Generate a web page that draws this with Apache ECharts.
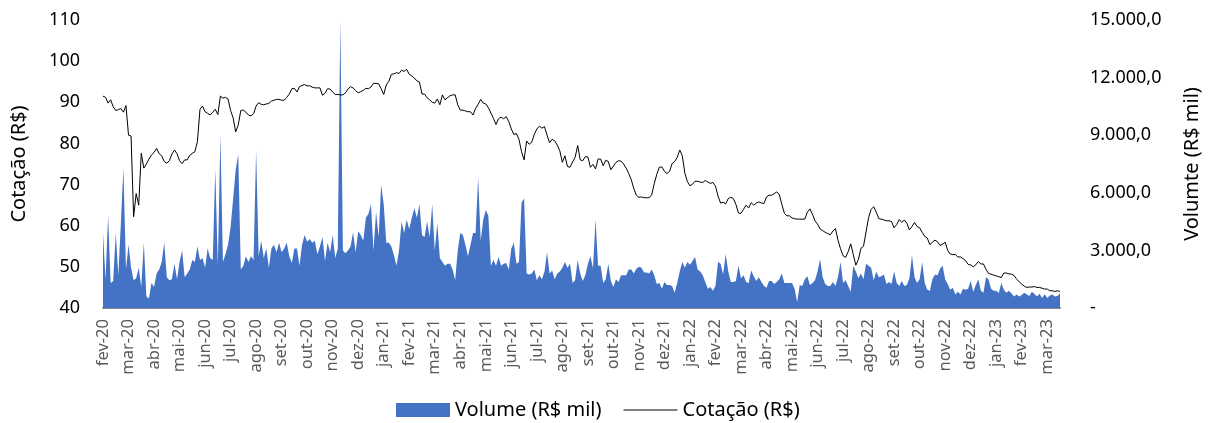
<!DOCTYPE html>
<html>
<head>
<meta charset="utf-8">
<script src="https://cdn.jsdelivr.net/npm/echarts@6/dist/echarts.min.js"></script>
<style>
  html, body { margin: 0; padding: 0; background: #ffffff; }
  #chart { width: 1214px; height: 423px; }
</style>
</head>
<body>
<div id="chart"></div>
<script>
// Month labels of the horizontal axis
const months2020 = ['fev-20', 'mar-20', 'abr-20', 'mai-20', 'jun-20', 'jul-20', 'ago-20', 'set-20', 'out-20', 'nov-20', 'dez-20'];
const months2021 = ['jan-21', 'fev-21', 'mar-21', 'abr-21', 'mai-21', 'jun-21', 'jul-21', 'ago-21', 'set-21', 'out-21', 'nov-21', 'dez-21'];
const months2022 = ['jan-22', 'fev-22', 'mar-22', 'abr-22', 'mai-22', 'jun-22', 'jul-22', 'ago-22', 'set-22', 'out-22', 'nov-22', 'dez-22'];
const months2023 = ['jan-23', 'fev-23', 'mar-23'];

// Readings per month (10 per month, March 2023 partial)
const readingsPerMonth = 10;

// Share price, R$
const price2020 = [
  91.5, 91.2, 89.8, 90.6, 88.9, 88, 88.2, 88.5, 87.6, 89.2,
  82, 81.8, 62.2, 67.8, 65, 77.6, 74, 75, 76.2, 77.2,
  77.8, 78.8, 77.5, 77, 75.6, 75.2, 75.8, 77.4, 78.4, 77.5,
  75.8, 75.1, 76, 76, 77.1, 77.6, 78, 80.5, 88.3, 89.1,
  87.7, 87.3, 86.9, 87.6, 88.3, 87, 91.5, 91, 91.2, 90.8,
  88, 86.2, 82.8, 84.5, 88, 88.1, 87.6, 86.9, 86.7, 87.2,
  89.1, 89.9, 89.5, 89.4, 89.6, 89.7, 90.3, 90.5, 90.7, 90.7,
  90.5, 90.5, 91.2, 92, 93.3, 93.4, 92.5, 93.8, 94.1, 94.3,
  94, 94, 93.7, 93.5, 93.5, 93.5, 91.7, 92.2, 93.3, 93.2,
  92.5, 91.9, 91.9, 91.8, 91.8, 92.3, 93.2, 93.8, 93.5, 92.8,
  92.3, 92.6, 92.9, 93.4, 93.3, 93.7, 94.6, 94.6, 94.5, 93.3
];
const price2021 = [
  91.9, 94.2, 95.1, 96.8, 96.9, 97.2, 97, 97.8, 97.5, 98,
  96.8, 96.4, 95.9, 95.2, 94.9, 92, 92, 91.1, 90.6, 90,
  89.8, 90.8, 89.4, 91.8, 90.6, 91.1, 91.6, 91.8, 91.8, 89.4,
  88.1, 88.1, 87.9, 87.7, 87.7, 86.9, 88.5, 89.5, 90.7, 89.8,
  89.6, 88.7, 87.4, 86.1, 84.6, 86, 86.4, 86, 86.5, 85.3,
  83.5, 82.2, 82.4, 81, 78, 76, 80.6, 79.8, 80.3, 82.2,
  83.5, 84.2, 83.7, 84.1, 82, 80.2, 81, 80.6, 79.6, 78.2,
  75.4, 77, 74.4, 74.2, 75.5, 76.6, 79.5, 76, 75.8, 76.8,
  76.7, 74.2, 74.9, 73.8, 76.2, 76.2, 74.6, 75.9, 75.6, 73.6,
  74.5, 75.4, 75.8, 75.7, 75, 74, 72.7, 71.2, 69, 67.4,
  66.9, 67, 66.8, 66.8, 66.8, 67.5, 70.2, 72.5, 74.2, 74.3,
  73.2, 72.7, 73.2, 75.1, 75.6, 76.6, 78.4, 77, 72.8, 70.7
];
const price2022 = [
  69.7, 70.1, 70.8, 70.8, 70.6, 70.5, 71, 70.6, 70.3, 70.5,
  69.6, 67.2, 65.5, 65.7, 65.3, 66.6, 66.9, 66.6, 65.2, 63.1,
  63, 64, 65, 64.3, 65.6, 65, 65.5, 65.8, 65.5, 65.4,
  67, 67.4, 67.4, 67.8, 68.2, 67.6, 65.2, 63, 62.4, 62.4,
  61.9, 61.7, 61.6, 61.6, 61.6, 61.6, 63.3, 64.1, 62.8, 61.2,
  60.4, 59.2, 58.8, 58.4, 58.1, 57.8, 58.7, 59.3, 56.5, 54.4,
  52.7, 52.3, 53.7, 55.6, 53, 50.4, 51.8, 54.5, 55, 58.5,
  62, 64, 64.6, 63.3, 61.7, 61.6, 61.4, 61.2, 61.2, 61,
  59.5, 60.3, 61.5, 60.8, 61.4, 60.6, 59, 59.8, 60.8, 59.8,
  59.5, 58.4, 57.4, 57, 55.4, 56, 56.5, 56.1, 55.2, 55.5,
  56, 54, 53.1, 53, 53, 52.4, 52.4, 52, 51.5, 50.6,
  50.5, 50, 50.5, 51.3, 50.7, 50.7, 49.4, 48.4, 48.2, 48
];
const price2023 = [
  47.8, 47.6, 47.4, 48.5, 48.5, 48.3, 48.2, 47.9, 47, 46.4,
  45.8, 45.3, 45, 45.1, 45.1, 45.2, 45, 45, 44.8, 44.6,
  44.6, 44.2, 44.2, 44, 44.2, 44
];

// Traded volume, R$ thousand
const volume2020 = [
  3900, 1500, 4800, 1300, 1400, 3900, 1700, 4400, 7300, 2000,
  3300, 2100, 1450, 1550, 2100, 1100, 3400, 600, 500, 1300,
  1100, 1800, 2000, 2400, 3400, 1600, 1450, 1500, 2300, 1500,
  2400, 3000, 1600, 1800, 2000, 2500, 2400, 3200, 2500, 2600,
  2100, 3100, 2600, 2500, 7200, 2200, 9000, 2400, 2800, 3300,
  4200, 5700, 7200, 8000, 2000, 2200, 2700, 2400, 2700, 2500,
  8200, 2700, 3500, 2600, 3100, 2100, 3100, 3300, 2900, 3400,
  2900, 3100, 3400, 2700, 2350, 3100, 3100, 2200, 3300, 3800,
  3450, 3600, 3400, 3500, 2800, 3200, 3700, 2450, 3400, 2900,
  3800, 2600, 3100, 15000, 3000, 2850, 3000, 3200, 3950, 2900,
  4000, 3800, 3500, 4700, 4900, 5400, 3000, 5000, 3700, 6400
];
const volume2021 = [
  5400, 3400, 3400, 3200, 2750, 2200, 3000, 4500, 3900, 4600,
  4100, 4700, 5200, 4700, 5400, 3800, 3700, 4500, 3700, 5400,
  3000, 4400, 2600, 2400, 2200, 2300, 2300, 2000, 1450, 3000,
  3900, 3800, 3300, 2700, 3300, 3900, 3900, 6800, 3500, 4600,
  5100, 4800, 2200, 2500, 2200, 2650, 2200, 2300, 2350, 2000,
  3100, 3400, 2300, 2400, 5500, 5700, 1800, 1750, 1800, 2000,
  1450, 1700, 1500, 1900, 2900, 1800, 1950, 1500, 1800, 1900,
  2100, 2400, 2100, 2300, 1300, 1450, 2500, 1800, 1400, 1700,
  2300, 2700, 2065, 4600, 2200, 2200, 1300, 1500, 2300, 1400,
  1100, 1500, 1350, 1700, 1700, 1700, 2000, 2000, 1800, 2050,
  2150, 2100, 1850, 1850, 1800, 2000, 1700, 1250, 1300, 1000,
  1350, 1200, 1200, 1150, 800, 1300, 1900, 2400, 2100, 2400
];
const volume2022 = [
  2250, 2450, 2650, 2000, 1900, 1700, 1350, 1000, 1100, 900,
  1150, 2400, 2300, 1750, 2800, 1900, 1350, 1350, 1400, 2200,
  1550, 1700, 1350, 1300, 1950, 1650, 1400, 1600, 1350, 1150,
  1050, 1400, 1400, 1250, 1350, 1500, 1800, 1300, 1300, 1300,
  1300, 1000, 300, 1200, 1150, 1500, 1650, 1200, 1300, 1450,
  1900, 2550, 1600, 1250, 1150, 1150, 1350, 1150, 1600, 2400,
  1300, 1450, 1150, 850, 2200, 1900, 1550, 1800, 1500, 2300,
  2200, 2100, 1450, 1900, 1600, 1650, 1750, 1250, 1350, 1250,
  1900, 1300, 1150, 1400, 1150, 1200, 1550, 2750, 1600, 1300,
  1500, 2400, 1300, 950, 900, 1500, 1750, 1700, 2050, 2200,
  1500, 1250, 950, 1050, 700, 850, 700, 1000, 950, 1000,
  1400, 850, 1200, 1500, 900, 800, 1600, 1500, 1000, 900
];
const volume2023 = [
  900, 780, 1300, 950, 800, 900, 750, 600, 700, 600,
  680, 800, 700, 620, 850, 730, 600, 740, 520, 720,
  520, 650, 700, 600, 620, 760
];

// Right axis tick values, R$ thousand
const volumeTicks = [0, 3000, 6000, 9000, 12000, 15000];

const months = months2020.concat(months2021, months2022, months2023);
const price = price2020.concat(price2021, price2022, price2023);
const volume = volume2020.concat(volume2021, volume2022, volume2023);
const slots = price.map((_, i) => String(i));

function brNumber(v) {
  if (v === 0) return '-';
  return String(v).replace(/\B(?=(\d{3})+(?!\d))/g, '.') + ',0';
}

const FONT = 'Noto Sans';
const chart = echarts.init(document.getElementById('chart'), null, { renderer: 'canvas' });

chart.setOption({
  animation: false,
  backgroundColor: '#ffffff',
  textStyle: { fontFamily: FONT },
  grid: { left: 103, right: 154, top: 20, bottom: 115 },
  legend: {
    top: 395,
    left: 391,
    itemWidth: 54,
    itemHeight: 14,
    itemGap: 22,
    symbolKeepAspect: true,
    textStyle: { fontFamily: FONT, fontSize: 20, color: '#000000' },
    data: [
      { name: 'Volume (R$ mil)', icon: 'rect' },
      { name: 'Cotação (R$)', icon: 'path://M0,0L54,0L54,1.2L0,1.2Z' }
    ]
  },
  xAxis: {
    type: 'category',
    data: slots,
    boundaryGap: false,
    axisLine: { lineStyle: { color: '#898989', width: 2 } },
    axisTick: { show: false },
    axisLabel: {
      rotate: 90,
      margin: 11,
      fontFamily: FONT,
      fontSize: 16.5,
      color: '#595959',
      interval: (index) => index % readingsPerMonth === 0,
      formatter: (value, index) => months[Math.floor(index / readingsPerMonth)]
    },
    splitLine: { show: false }
  },
  yAxis: [
    {
      type: 'value',
      min: 40,
      max: 110,
      interval: 10,
      name: 'Cotação (R$)',
      nameLocation: 'middle',
      nameRotate: 90,
      nameGap: 74,
      nameTextStyle: { fontFamily: FONT, fontSize: 20, color: '#000000' },
      axisLine: { show: false },
      axisTick: { show: false },
      splitLine: { show: false },
      axisLabel: { margin: 23, fontFamily: FONT, fontSize: 18, color: '#000000' }
    },
    {
      type: 'value',
      min: volumeTicks[0],
      max: volumeTicks[volumeTicks.length - 1],
      interval: volumeTicks[1] - volumeTicks[0],
      name: 'Volumte (R$ mil)',
      nameLocation: 'middle',
      nameRotate: 90,
      nameGap: 122,
      nameTextStyle: { fontFamily: FONT, fontSize: 20, color: '#000000' },
      axisLine: { show: false },
      axisTick: { show: false },
      splitLine: { show: false },
      axisLabel: {
        margin: 30,
        fontFamily: FONT,
        fontSize: 18,
        color: '#000000',
        formatter: brNumber
      }
    }
  ],
  series: [
    {
      name: 'Volume (R$ mil)',
      type: 'line',
      yAxisIndex: 1,
      data: volume,
      symbol: 'none',
      color: '#4472C4',
      lineStyle: { width: 0 },
      areaStyle: { color: '#4472C4', opacity: 1 },
      z: 1
    },
    {
      name: 'Cotação (R$)',
      type: 'line',
      yAxisIndex: 0,
      data: price,
      symbol: 'none',
      color: '#000000',
      lineStyle: { color: '#000000', width: 1 },
      z: 3
    }
  ]
});
</script>
</body>
</html>
